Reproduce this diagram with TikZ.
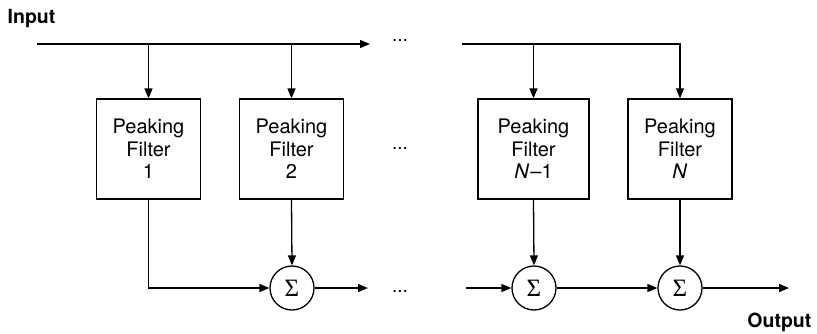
\documentclass[tikz,border=0pt]{standalone}
\usepackage{fontspec}
\setmainfont{TeX Gyre Heros}
\newfontfamily\sigfont{Liberation Serif}
\usetikzlibrary{arrows.meta}
\begin{document}
\begin{tikzpicture}[x=1pt,y=-1pt,
  line width=1.3pt,
  arr/.style={-{Triangle[length=10pt,width=8pt]}},
  fbox/.style={draw, minimum height=100pt, align=center, inner sep=0pt,
    font=\fontsize{20}{22.5}\selectfont},
  sumnode/.style={draw, circle, minimum size=44pt, inner sep=0pt,
    font=\sigfont\fontsize{25}{25}\selectfont},
  lbl/.style={font=\fontsize{19.5}{20}\selectfont\bfseries, inner sep=0pt},
  dotsn/.style={font=\fontsize{19}{20}\selectfont, inner sep=0pt, anchor=base}]
\useasboundingbox (0,0) rectangle (817,333);

\node[lbl, anchor=base west] (inlbl) at (7,23) {Input};
\node[lbl, anchor=base east] (outlbl) at (812,327) {Output};

\node[fbox, minimum width=104pt] (f1) at (148.5,149) {Peaking\\Filter\\1};
\node[fbox, minimum width=104pt] (f2) at (291.5,149) {Peaking\\Filter\\2};
\node[fbox, minimum width=111pt] (f3) at (533.5,149) {Peaking\\Filter\\\textit{N}\kern1pt\textendash1};
\node[fbox, minimum width=104pt] (f4) at (680,149) {Peaking\\Filter\\\textit{N}};

\node[sumnode] (s1) at (292,288) {Σ};
\node[sumnode] (s2) at (534,288) {Σ};
\node[sumnode] (s3) at (680,288) {Σ};

\node[dotsn] (d1) at (400,41) {...};
\node[dotsn] (d2) at (400,149) {...};
\node[dotsn] (d3) at (400,292) {...};

\coordinate (in0) at (37,44);
\coordinate (in1) at (370,44);
\coordinate (in2) at (462,44);
\coordinate (o1) at (368,288);
\coordinate (o2) at (466,288);
\coordinate (out) at (789,288);

\draw[arr] (in0) -- (in1);
\draw[arr] (f1 |- in0) -- (f1.north);
\draw[arr] (f2 |- in0) -- (f2.north);
\draw[arr] (in2) -| (f4.north);
\draw[arr] (f3 |- in2) -- (f3.north);

\draw[arr] (f1.south) |- (s1.west);
\draw[arr] (f2.south) -- (s1.north);
\draw[arr] (s1.east) -- (o1);
\draw[arr] (o2) -- (s2.west);
\draw[arr] (f3.south) -- (s2.north);
\draw[arr] (s2.east) -- (s3.west);
\draw[arr] (f4.south) -- (s3.north);
\draw[arr] (s3.east) -- (out);
\end{tikzpicture}
\end{document}
